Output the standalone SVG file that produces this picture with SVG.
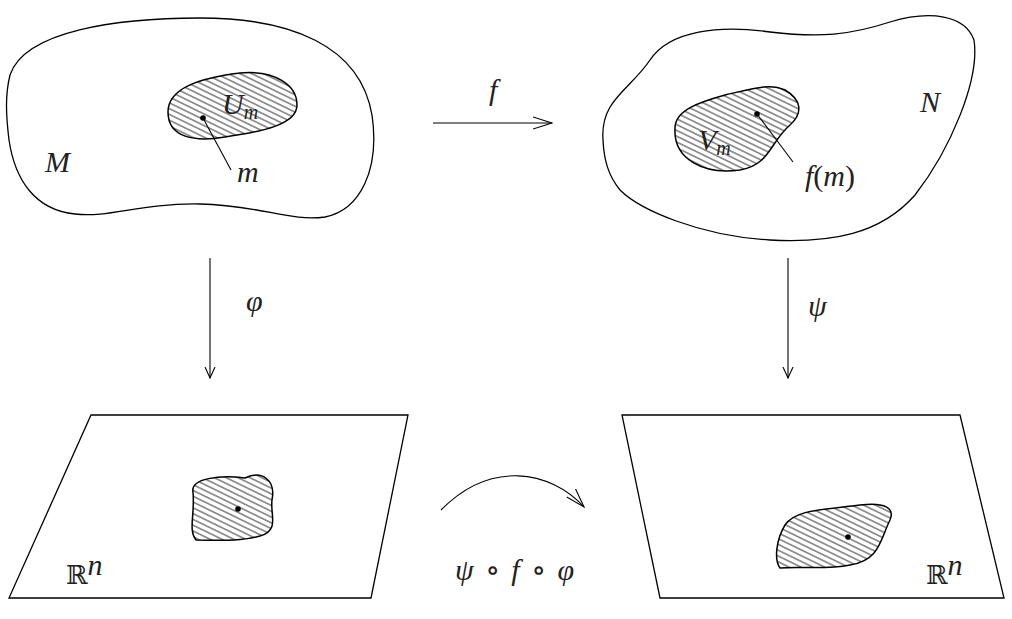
<svg xmlns="http://www.w3.org/2000/svg" width="1012" height="619" viewBox="0 0 1012 619">
<style>
.o{fill:none;stroke:#000;stroke-width:1.3}
.h{fill:url(#hatch);stroke:#000;stroke-width:1.5}
.c{fill:none;stroke:#000;stroke-width:1.1}
.t{font-family:"Liberation Serif","DejaVu Serif",serif;font-style:italic;font-size:30px;fill:#222}
.s{font-family:"Liberation Serif","DejaVu Serif",serif;font-style:italic;font-size:20px;fill:#222}
.r{font-family:"DejaVu Serif","Liberation Serif",serif;font-size:26px;fill:#222}
.u{font-family:"Liberation Serif","DejaVu Serif",serif;font-style:normal;font-size:30px;fill:#222}
</style>
<defs>
<pattern id="hatch" patternUnits="userSpaceOnUse" width="12" height="5.2" patternTransform="rotate(26)">
<line x1="0" y1="2.6" x2="12" y2="2.6" stroke="#222" stroke-width="0.9"/>
</pattern>
<marker id="ah" viewBox="0 0 12 12" refX="11" refY="6" markerWidth="12" markerHeight="12" markerUnits="userSpaceOnUse" orient="auto">
<path d="M0,1 L11,6 L0,11" fill="none" stroke="#000" stroke-width="1.1"/>
</marker>
<marker id="ahb" viewBox="0 0 20 14" refX="19" refY="7" markerWidth="20" markerHeight="14" markerUnits="userSpaceOnUse" orient="auto">
<path d="M0,1 L19,7 L0,13" fill="none" stroke="#000" stroke-width="1.1"/>
</marker>
</defs>
<g id="M">
<path class="o" d="M10,75 C25,30 120,18 200,18 C290,18 360,45 372,115 C380,170 360,210 325,217 C290,222 260,205 200,204 C140,203 110,218 75,214 C35,210 15,180 9,140 C6,115 5,95 10,75 Z"/>
<text class="t" x="45" y="172">M</text>
</g>
<g id="Um">
<path class="h" d="M168,112 C168,88 200,78 240,73 C275,70 297,85 297,105 C297,125 260,132 225,137 C195,142 168,138 168,112 Z"/>
<text class="t" x="222" y="114">U<tspan class="s" dy="5">m</tspan></text>
<circle cx="203" cy="118" r="2.8"/>
<line class="c" x1="203" y1="118" x2="231" y2="170"/>
<text class="t" x="237" y="182">m</text>
</g>
<g id="N">
<path class="o" d="M603,140 C600,100 630,90 650,60 C670,30 720,25 770,32 C820,38 850,35 890,22 C930,10 965,15 974,40 C980,80 950,150 915,195 C880,235 830,243 770,240 C700,236 640,210 620,190 C608,175 604,160 603,140 Z"/>
<text class="t" x="920" y="112">N</text>
</g>
<g id="Vm">
<path class="h" d="M675,128 C675,110 700,102 725,95 C755,88 770,83 785,90 C802,100 803,113 790,125 C770,142 770,165 740,170 C705,175 673,160 675,128 Z"/>
<text class="t" x="698" y="150">V<tspan class="s" dy="5">m</tspan></text>
<circle cx="757" cy="114" r="2.8"/>
<line class="c" x1="757" y1="114" x2="793" y2="162"/>
<text class="t" x="805" y="186">f<tspan class="u">(</tspan>m<tspan class="u">)</tspan></text>
</g>
<g id="Rn1">
<path class="o" d="M91,415 L408,415 L371,598 L9,598 Z"/>
<path class="h" d="M193,492 C190,478 220,475 245,478 C262,470 276,480 272,500 C270,515 280,530 260,536 C240,542 215,540 196,540 C188,530 195,515 193,492 Z"/>
<circle cx="238" cy="509" r="2.8"/>
<text class="r" x="66" y="584">ℝ<tspan class="t" font-size="21" dy="-9">n</tspan></text>
</g>
<g id="Rn2">
<path class="o" d="M622,415 L960,415 L1004,598 L660,598 Z"/>
<path class="h" d="M785,525 C795,510 820,510 860,505 C885,502 895,508 890,520 C880,540 880,560 850,565 C825,570 800,566 780,568 C774,560 776,540 785,525 Z"/>
<circle cx="848" cy="537" r="2.8"/>
<text class="r" x="926" y="584">ℝ<tspan class="t" font-size="21" dy="-9">n</tspan></text>
</g>
<g id="connectors">
<line class="c" x1="433" y1="123" x2="552" y2="123" marker-end="url(#ahb)"/>
<text class="t" x="489" y="100">f</text>
<line class="c" x1="210" y1="258" x2="210" y2="378" marker-end="url(#ah)"/>
<text class="t" x="246" y="311">φ</text>
<line class="c" x1="788" y1="258" x2="788" y2="378" marker-end="url(#ah)"/>
<text class="t" x="808" y="316">ψ</text>
<path class="c" d="M441,510 C490,460 550,470 584,507" marker-end="url(#ahb)"/>
<text class="t" x="455" y="580" word-spacing="4">ψ <tspan class="u">∘</tspan> f <tspan class="u">∘</tspan> φ</text>
</g>
</svg>
